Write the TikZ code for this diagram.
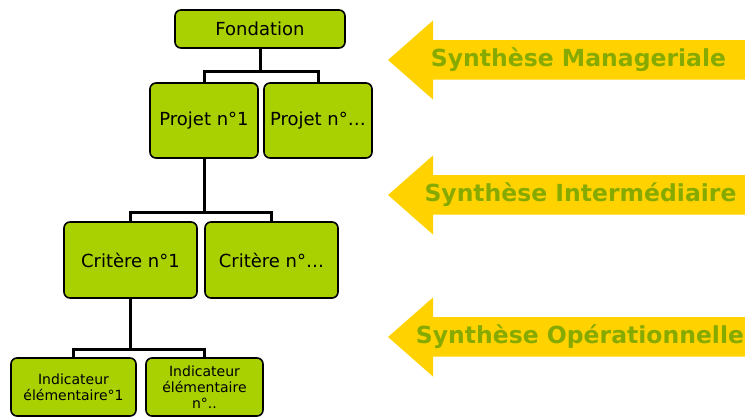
\documentclass[tikz,border=0pt]{standalone}
\usepackage{fontspec}
\setmainfont{DejaVu Sans}
\definecolor{boxgreen}{RGB}{169,208,0}
\definecolor{arrowyellow}{RGB}{255,210,0}
\definecolor{textgreen}{RGB}{134,170,0}
\begin{document}
\begin{tikzpicture}[x=1pt,y=-1pt,
  orgbox/.style={draw=black,line width=1.6pt,fill=boxgreen,rounded corners=6pt,inner sep=0pt,align=center,font=\fontsize{18}{21}\selectfont},
  smallbox/.style={orgbox,font=\fontsize{14}{16}\selectfont},
  link/.style={line width=3pt},
  synth/.style={font=\bfseries\fontsize{23.5}{26}\selectfont,text=textgreen}]
\useasboundingbox (0,0) rectangle (745,418);
% boxes
\node[orgbox,minimum width=170pt,minimum height=38pt] (fond) at (260,29) {Fondation};
\node[orgbox,minimum width=108pt,minimum height=75pt] (p1) at (204,120.5) {Projet n°1};
\node[orgbox,minimum width=108pt,minimum height=75pt] (p2) at (318,120.5) {Projet n°…};
\node[orgbox,minimum width=133pt,minimum height=76pt] (c1) at (130.5,260) {Critère n°1};
\node[orgbox,minimum width=133pt,minimum height=76pt] (c2) at (271.5,260) {Critère n°…};
\node[smallbox,minimum width=125pt,minimum height=58pt] (i1) at (73.5,387) {Indicateur\\élémentaire°1};
\node[smallbox,minimum width=117pt,minimum height=58pt] (i2) at (204.5,387) {Indicateur\\élémentaire\\n°..};
% connectors
\coordinate (j1) at (260,71);
\coordinate (j2) at (204,212);
\coordinate (j3) at (130.5,349);
\draw[link] (fond.south) -- (j1);
\draw[link] (p1.north) |- (j1) -| (p2.north);
\draw[link] (p1.south) -- (j2);
\draw[link] (c1.north) |- (j2) -| (c2.north);
\draw[link] (c1.south) -- (j3);
\draw[link] (i1.north) |- (j3) -| (i2.north);
% arrows
\foreach \cy in {60,195,337}{
  \fill[arrowyellow] (388,\cy) -- (433,\cy-39.5) -- (433,\cy-20) -- (745,\cy-20) -- (745,\cy+19.5) -- (433,\cy+19.5) -- (433,\cy+39.5) -- cycle;
}
\node[synth] (t1) at (578.5,60) {Synthèse Manageriale};
\node[synth] (t2) at (580.5,195) {Synthèse Intermédiaire};
\node[synth] (t3) at (580,337) {Synthèse Opérationnelle};
\end{tikzpicture}
\end{document}
